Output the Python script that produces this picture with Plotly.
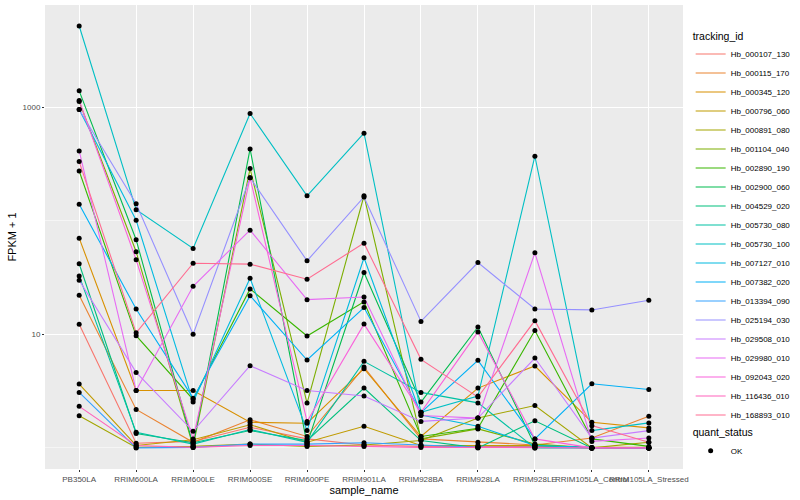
import plotly.graph_objects as go

samples = ["PB350LA", "RRIM600LA", "RRIM600LE", "RRIM600SE", "RRIM600PE", "RRIM901LA",
           "RRIM928BA", "RRIM928LA", "RRIM928LE", "RRIM105LA_Control", "RRIM105LA_Stressed"]

# FPKM + 1 values, one list per gene (order = samples)
Hb_000107_130 = [12.25, 1.10, 1.14, 1.52, 1.20, 1.06, 1.03, 1.03, 1.03, 1.00, 1.00]
Hb_000115_170 = [22.1, 2.18, 1.12, 1.77, 1.26, 5.15, 1.20, 1.12, 1.06, 1.22, 1.90]
Hb_000345_120 = [70.3, 3.20, 3.20, 1.68, 1.65, 4.98, 1.26, 3.36, 5.26, 1.68, 1.50]
Hb_000796_060 = [3.65, 1.05, 1.18, 1.60, 1.12, 1.55, 1.05, 1.05, 1.05, 1.01, 1.01]
Hb_000891_080 = [1.92, 1.01, 1.03, 1.08, 1.03, 1.06, 1.16, 1.83, 2.36, 1.00, 1.12]
Hb_001104_040 = [1122, 53.3, 1.03, 288, 2.48, 166, 1.20, 1.47, 1.08, 1.00, 1.00]
Hb_002890_190 = [274, 9.73, 2.67, 25.1, 9.67, 19.3, 1.26, 1.49, 10.8, 1.20, 1.03]
Hb_002900_060 = [1393, 68.0, 1.06, 429, 1.08, 35.0, 2.53, 11.6, 1.05, 1.00, 1.00]
Hb_004529_020 = [41.8, 1.34, 1.11, 1.42, 1.16, 3.36, 1.16, 1.00, 1.73, 1.00, 1.00]
Hb_005730_080 = [32.7, 1.37, 1.08, 1.45, 1.12, 5.78, 3.08, 2.49, 1.00, 1.00, 1.00]
Hb_005730_100 = [5190, 125, 57.0, 879, 166, 590, 2.06, 2.86, 370, 1.42, 1.66]
Hb_007127_010 = [954, 101, 2.53, 31.2, 1.42, 47.2, 1.95, 1.55, 1.05, 1.01, 1.00]
Hb_007382_020 = [140, 16.7, 2.74, 21.9, 5.94, 17.2, 2.04, 5.90, 1.20, 3.67, 3.27]
Hb_013394_090 = [3.08, 1.00, 1.01, 1.08, 1.08, 1.11, 1.06, 1.01, 1.01, 1.00, 1.00]
Hb_025194_030 = [954, 141, 10.0, 239, 44.4, 162, 13.0, 42.9, 16.7, 16.4, 19.95]
Hb_029508_010 = [29.9, 4.62, 1.40, 5.29, 3.20, 2.86, 1.71, 1.83, 6.18, 1.22, 1.42]
Hb_029980_010 = [412, 3.20, 26.5, 82.7, 20.2, 21.3, 1.93, 1.83, 52.2, 1.14, 1.22]
Hb_092043_020 = [1145, 45.3, 1.20, 239, 1.71, 12.3, 2.06, 10.5, 1.20, 1.00, 1.00]
Hb_116436_010 = [2.32, 1.05, 1.01, 1.05, 1.05, 1.03, 1.01, 1.01, 1.00, 1.00, 1.00]
Hb_168893_010 = [332, 10.3, 42.3, 41.5, 30.6, 63.5, 6.02, 2.80, 13.2, 1.57, 1.12]

tracking_ids = ["Hb_000107_130", "Hb_000115_170", "Hb_000345_120", "Hb_000796_060",
                "Hb_000891_080", "Hb_001104_040", "Hb_002890_190", "Hb_002900_060",
                "Hb_004529_020", "Hb_005730_080", "Hb_005730_100", "Hb_007127_010",
                "Hb_007382_020", "Hb_013394_090", "Hb_025194_030", "Hb_029508_010",
                "Hb_029980_010", "Hb_092043_020", "Hb_116436_010", "Hb_168893_010"]
series = [Hb_000107_130, Hb_000115_170, Hb_000345_120, Hb_000796_060, Hb_000891_080,
          Hb_001104_040, Hb_002890_190, Hb_002900_060, Hb_004529_020, Hb_005730_080,
          Hb_005730_100, Hb_007127_010, Hb_007382_020, Hb_013394_090, Hb_025194_030,
          Hb_029508_010, Hb_029980_010, Hb_092043_020, Hb_116436_010, Hb_168893_010]
colors = ["#F8766D", "#EA8331", "#D89000", "#C09B00", "#A3A500", "#7CAE00", "#39B600",
          "#00BB4E", "#00BF7D", "#00C1A3", "#00BFC4", "#00BAE0", "#00B0F6", "#35A2FF",
          "#9590FF", "#C77CFF", "#E76BF3", "#FA62DB", "#FF62BC", "#FF6C91"]
quant_status = ["OK"]

FONT = "Liberation Sans, Arial, sans-serif"
fig = go.Figure()
for name, vals, col in zip(tracking_ids, series, colors):
    fig.add_trace(go.Scatter(x=samples, y=vals, mode="lines", name=name,
                             line=dict(color=col, width=1.1), legend="legend"))

all_x = [s for vals in series for s in samples]
all_y = [v for vals in series for v in vals]
fig.add_trace(go.Scatter(x=all_x, y=all_y, mode="markers", name=quant_status[0],
                         marker=dict(color="black", size=5, symbol="circle"),
                         legend="legend2"))

fig.update_layout(
    width=800, height=500,
    margin=dict(l=45, r=117, t=5, b=31, autoexpand=False),
    paper_bgcolor="white", plot_bgcolor="#EBEBEB",
    font=dict(family=FONT, color="black"),
    showlegend=True,
    legend=dict(title=dict(text="tracking_id", font=dict(size=10.5)),
                font=dict(size=8), x=1.012, xanchor="left", y=0.955, yanchor="top",
                bgcolor="rgba(0,0,0,0)", tracegroupgap=0, itemwidth=30),
    legend2=dict(title=dict(text="quant_status", font=dict(size=10.5)),
                 font=dict(size=8), x=1.012, xanchor="left", y=0.10, yanchor="top",
                 bgcolor="rgba(0,0,0,0)", itemwidth=30),
)
fig.update_xaxes(type="category", categoryorder="array", categoryarray=samples,
                 range=[-0.6, 10.6], showgrid=True, gridcolor="white", gridwidth=1.1,
                 tickangle=0, ticks="outside", ticklen=2, tickcolor="#333333",
                 tickfont=dict(size=8, color="#4D4D4D"), zeroline=False,
                 title=dict(text="sample_name", font=dict(size=11), standoff=0))
fig.update_yaxes(type="log", range=[-0.186, 3.9], tickvals=[10, 1000], ticktext=["10", "1000"],
                 showgrid=True, gridcolor="white", gridwidth=1.1,
                 minor=dict(tickvals=[1, 100, 10000], showgrid=True, gridcolor="#F5F5F5",
                            gridwidth=0.6, ticklen=0),
                 ticks="outside", ticklen=2, tickcolor="#333333",
                 tickfont=dict(size=8, color="#4D4D4D"), zeroline=False,
                 title=dict(text="FPKM + 1", font=dict(size=11), standoff=3))

fig.write_html("out.html", config={"displayModeBar": False},
               post_script="document.body.style.margin='0';")
